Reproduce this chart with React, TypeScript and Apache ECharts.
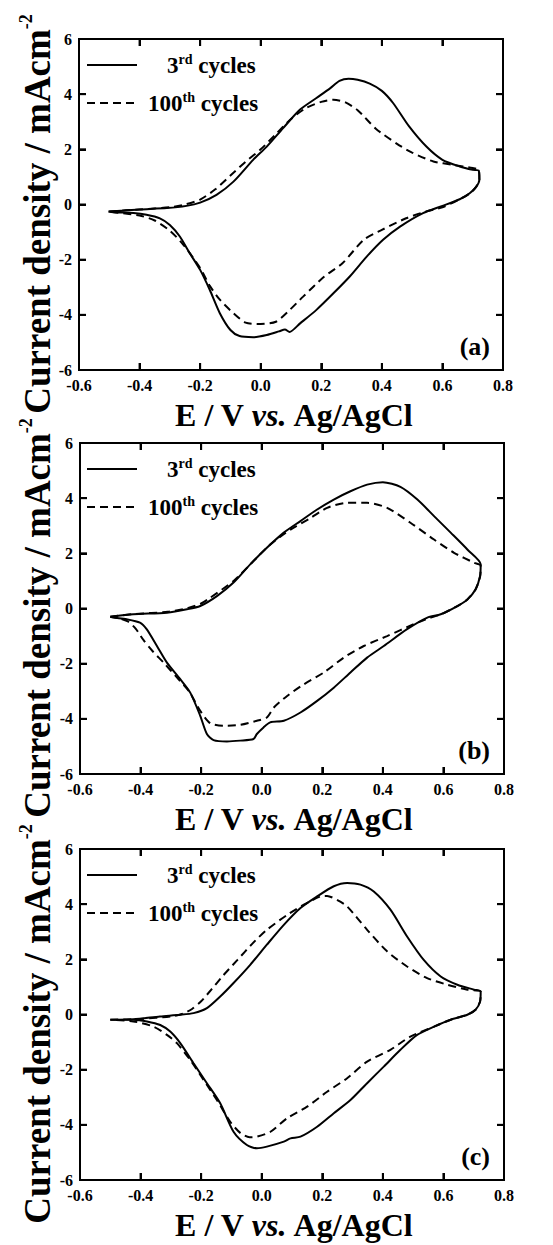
import React, { useEffect, useRef } from "react";
import * as echarts from "echarts";

// ---- data: [E (V vs Ag/AgCl), current density (mA cm^-2)] ----
const a3rd: number[][] = [
  [-0.503, -0.25], [-0.45, -0.22], [-0.40, -0.18], [-0.31, -0.13], [-0.245, -0.05], [-0.20, 0.07],
  [-0.146, 0.35], [-0.09, 0.83], [-0.025, 1.62], [0.02, 2.10], [0.074, 2.77], [0.13, 3.44],
  [0.184, 3.86], [0.23, 4.22], [0.26, 4.48], [0.29, 4.56], [0.32, 4.52], [0.36, 4.38],
  [0.40, 4.12], [0.437, 3.68], [0.49, 2.83], [0.547, 2.10], [0.60, 1.62], [0.657, 1.38],
  [0.70, 1.26], [0.72, 1.23], [0.722, 0.9], [0.712, 0.65], [0.69, 0.41], [0.657, 0.19],
  [0.60, -0.05], [0.536, -0.31], [0.46, -0.80], [0.404, -1.28], [0.35, -1.89], [0.294, -2.61],
  [0.24, -3.22], [0.184, -3.82], [0.13, -4.31], [0.095, -4.62], [0.08, -4.53], [0.06, -4.60],
  [0.02, -4.73], [-0.025, -4.81], [-0.07, -4.77], [-0.10, -4.55], [-0.135, -3.94], [-0.168, -3.10],
  [-0.20, -2.37], [-0.234, -1.77], [-0.267, -1.16], [-0.30, -0.74], [-0.333, -0.50], [-0.377, -0.37],
  [-0.42, -0.31], [-0.487, -0.28], [-0.503, -0.25],
];
const a100th: number[][] = [
  [-0.50, -0.25], [-0.40, -0.18], [-0.30, -0.10], [-0.25, 0.0], [-0.20, 0.18], [-0.15, 0.55],
  [-0.10, 1.05], [-0.05, 1.55], [0.0, 2.0], [0.05, 2.55], [0.10, 3.1], [0.15, 3.5],
  [0.20, 3.72], [0.24, 3.80], [0.28, 3.70], [0.32, 3.42], [0.38, 2.75], [0.45, 2.2],
  [0.50, 1.88], [0.57, 1.56], [0.635, 1.44], [0.70, 1.32], [0.72, 1.25], [0.722, 0.9],
  [0.71, 0.62], [0.69, 0.40], [0.655, 0.18], [0.60, -0.10], [0.547, -0.25], [0.48, -0.50],
  [0.40, -0.92], [0.34, -1.28], [0.27, -2.13], [0.21, -2.61], [0.14, -3.34], [0.096, -3.82],
  [0.05, -4.25], [0.0, -4.33], [-0.05, -4.28], [-0.09, -3.94], [-0.135, -3.45], [-0.168, -2.95],
  [-0.20, -2.30], [-0.256, -1.45], [-0.30, -0.95], [-0.35, -0.58], [-0.40, -0.40], [-0.47, -0.30],
  [-0.50, -0.25],
];
const b3rd: number[][] = [
  [-0.50, -0.30], [-0.424, -0.21], [-0.313, -0.15], [-0.247, -0.03], [-0.203, 0.09], [-0.148, 0.45],
  [-0.093, 0.94], [-0.038, 1.60], [0.017, 2.20], [0.073, 2.75], [0.128, 3.17], [0.183, 3.59],
  [0.238, 3.95], [0.293, 4.25], [0.348, 4.49], [0.40, 4.58], [0.458, 4.41], [0.514, 3.95],
  [0.569, 3.35], [0.624, 2.75], [0.679, 2.14], [0.723, 1.60], [0.721, 1.18], [0.706, 0.69],
  [0.679, 0.33], [0.646, 0.09], [0.591, -0.21], [0.547, -0.33], [0.48, -0.75], [0.403, -1.36],
  [0.348, -1.78], [0.293, -2.32], [0.238, -2.87], [0.183, -3.35], [0.128, -3.77], [0.073, -4.07],
  [0.028, -4.13], [0.006, -4.31], [-0.016, -4.55], [-0.027, -4.73], [-0.071, -4.79], [-0.115, -4.82],
  [-0.159, -4.77], [-0.181, -4.55], [-0.203, -3.89], [-0.236, -3.05], [-0.269, -2.56], [-0.313, -1.96],
  [-0.346, -1.36], [-0.38, -0.75], [-0.402, -0.51], [-0.446, -0.39], [-0.49, -0.33], [-0.50, -0.30],
];
const b100th: number[][] = [
  [-0.50, -0.30], [-0.42, -0.20], [-0.31, -0.12], [-0.25, 0.0], [-0.20, 0.18], [-0.17, 0.39],
  [-0.093, 1.0], [-0.027, 1.72], [0.028, 2.32], [0.095, 2.86], [0.161, 3.28], [0.216, 3.65],
  [0.282, 3.83], [0.348, 3.83], [0.414, 3.65], [0.491, 3.11], [0.569, 2.50], [0.635, 2.02],
  [0.701, 1.66], [0.723, 1.55], [0.721, 1.15], [0.706, 0.69], [0.679, 0.33], [0.646, 0.09],
  [0.59, -0.22], [0.55, -0.36], [0.502, -0.57], [0.414, -1.00], [0.337, -1.36], [0.271, -1.78],
  [0.205, -2.32], [0.139, -2.75], [0.084, -3.17], [0.040, -3.59], [0.017, -3.95], [-0.016, -4.07],
  [-0.071, -4.22], [-0.126, -4.25], [-0.170, -4.16], [-0.203, -3.71], [-0.24, -3.0], [-0.28, -2.5],
  [-0.324, -1.96], [-0.36, -1.55], [-0.39, -1.15], [-0.415, -0.75], [-0.44, -0.48], [-0.47, -0.36],
  [-0.50, -0.30],
];
const c3rd: number[][] = [
  [-0.50, -0.19], [-0.424, -0.17], [-0.336, -0.07], [-0.269, -0.01], [-0.225, 0.05], [-0.181, 0.23],
  [-0.137, 0.65], [-0.093, 1.14], [-0.038, 1.80], [0.017, 2.53], [0.073, 3.25], [0.128, 3.86],
  [0.183, 4.28], [0.238, 4.65], [0.282, 4.77], [0.326, 4.71], [0.370, 4.46], [0.425, 3.80],
  [0.480, 2.83], [0.535, 1.98], [0.591, 1.38], [0.646, 1.08], [0.701, 0.90], [0.723, 0.83],
  [0.721, 0.47], [0.706, 0.17], [0.679, -0.01], [0.624, -0.19], [0.569, -0.44], [0.513, -0.74],
  [0.458, -1.28], [0.403, -1.89], [0.348, -2.49], [0.293, -3.10], [0.238, -3.58], [0.183, -4.07],
  [0.128, -4.43], [0.095, -4.49], [0.073, -4.61], [0.017, -4.79], [-0.016, -4.85], [-0.049, -4.73],
  [-0.093, -4.25], [-0.137, -3.22], [-0.181, -2.49], [-0.225, -1.77], [-0.269, -1.04], [-0.302, -0.62],
  [-0.335, -0.38], [-0.379, -0.25], [-0.424, -0.19], [-0.50, -0.19],
];
const c100th: number[][] = [
  [-0.50, -0.19], [-0.40, -0.16], [-0.30, -0.07], [-0.26, 0.03], [-0.23, 0.20], [-0.20, 0.48],
  [-0.165, 0.92], [-0.13, 1.38], [-0.08, 1.98], [-0.03, 2.58], [0.017, 3.07], [0.084, 3.61],
  [0.139, 3.98], [0.194, 4.28], [0.216, 4.30], [0.25, 4.15], [0.282, 3.92], [0.348, 3.07],
  [0.414, 2.29], [0.480, 1.74], [0.546, 1.32], [0.613, 1.08], [0.679, 0.90], [0.723, 0.83],
  [0.721, 0.47], [0.706, 0.17], [0.679, -0.01], [0.624, -0.19], [0.569, -0.44], [0.491, -0.80],
  [0.425, -1.28], [0.348, -1.71], [0.282, -2.31], [0.216, -2.80], [0.150, -3.34], [0.084, -3.76],
  [0.029, -4.25], [-0.016, -4.43], [-0.04, -4.45], [-0.07, -4.3], [-0.104, -3.89], [-0.148, -3.10],
  [-0.192, -2.37], [-0.236, -1.65], [-0.280, -1.04], [-0.313, -0.74], [-0.357, -0.44], [-0.424, -0.25],
  [-0.50, -0.19],
];

const panelLabels = ["(a)", "(b)", "(c)"];
const legendNames = ["3rd cycles", "100th cycles"];
const xRange = [-0.6, 0.8];
const yRange = [-6, 6];
const xTickValues = [-0.6, -0.4, -0.2, 0, 0.2, 0.4, 0.6, 0.8];
const yTickValues = [-6, -4, -2, 0, 2, 4, 6];

const SERIF = "Liberation Serif";

export default function App() {
  const ref = useRef<HTMLDivElement>(null);
  useEffect(() => {
    if (!ref.current) return;
    const chart = echarts.init(ref.current, undefined, { renderer: "svg" });
    const panels = [
      { top: 39, left: 79, solid: a3rd, dashed: a100th },
      { top: 443, left: 80, solid: b3rd, dashed: b100th },
      { top: 849, left: 80, solid: c3rd, dashed: c100th },
    ];
    const H = 331;
    const W = 424;
    const TICK = 7;
    const grids: any[] = [];
    const xAxes: any[] = [];
    const yAxes: any[] = [];
    const series: any[] = [];
    const graphics: any[] = [];
    const labelStyle = { color: "#000", fontFamily: SERIF, fontWeight: "bold", fontSize: 16 };
    panels.forEach((p, i) => {
      grids.push({ left: p.left, top: p.top, width: W, height: H });
      const mk = () => ({
        gridIndex: i, type: "value", z: 10, splitLine: { show: false },
        axisLine: { show: true, onZero: false, lineStyle: { color: "#000", width: 2 } },
        axisTick: { show: true, inside: true, length: TICK, lineStyle: { color: "#000", width: 2 } },
      });
      xAxes.push({
        ...mk(), position: "bottom", min: xRange[0], max: xRange[1], interval: 0.2,
        axisLabel: { ...labelStyle, margin: 7, formatter: (v: number) => v.toFixed(1) },
      });
      xAxes.push({
        ...mk(), position: "top", min: xRange[0], max: xRange[1], interval: 0.2,
        axisLabel: { show: false },
      });
      yAxes.push({
        ...mk(), position: "left", min: yRange[0], max: yRange[1], interval: 2,
        axisLabel: { ...labelStyle, margin: 7 },
      });
      yAxes.push({
        ...mk(), position: "right", min: yRange[0], max: yRange[1], interval: 2,
        axisLabel: { show: false },
      });
      series.push({
        type: "line", name: legendNames[0], xAxisIndex: 2 * i, yAxisIndex: 2 * i,
        data: p.solid, showSymbol: false, symbol: "none", smooth: 0.25,
        lineStyle: { color: "#000", width: 2 },
      });
      series.push({
        type: "line", name: legendNames[1], xAxisIndex: 2 * i, yAxisIndex: 2 * i,
        data: p.dashed, showSymbol: false, symbol: "none", smooth: 0.25,
        lineStyle: { color: "#000", width: 2, type: [8, 5] },
      });
      const T = p.top;
      // legend
      graphics.push({ type: "line", shape: { x1: 87, y1: T + 26, x2: 137, y2: T + 26 }, style: { stroke: "#000", lineWidth: 2 } });
      graphics.push({ type: "line", shape: { x1: 87, y1: T + 64, x2: 137, y2: T + 64 }, style: { stroke: "#000", lineWidth: 2, lineDash: [8, 5] } });
      const legRich = {
        n: { fontFamily: SERIF, fontWeight: "bold", fontSize: 23, lineHeight: 26, fill: "#000" },
        s: { fontFamily: SERIF, fontWeight: "bold", fontSize: 14, lineHeight: 14, verticalAlign: "top", fill: "#000" },
      };
      graphics.push({ type: "text", x: 167, y: T + 26, style: { text: "{n|3}{s|rd}{n| cycles}", rich: legRich, align: "left", verticalAlign: "middle" } });
      graphics.push({ type: "text", x: 148, y: T + 64, style: { text: "{n|100}{s|th}{n| cycles}", rich: legRich, align: "left", verticalAlign: "middle" } });
      // panel label
      graphics.push({ type: "text", x: 490, y: T + 307, style: { text: panelLabels[i], fontFamily: SERIF, fontWeight: "bold", fontSize: 26, fill: "#000", align: "right", verticalAlign: "middle" } });
      // x title
      graphics.push({
        type: "text", x: 294, y: T + H + 45,
        style: {
          text: "{n|E / V }{i|vs.}{n| Ag/AgCl}", align: "center", verticalAlign: "middle",
          rich: {
            n: { fontFamily: SERIF, fontWeight: "bold", fontSize: 32, fill: "#000" },
            i: { fontFamily: SERIF, fontWeight: "bold", fontStyle: "italic", fontSize: 32, fill: "#000" },
          },
        },
      });
      // y title
      graphics.push({
        type: "text", x: 37, y: T + 175, rotation: Math.PI / 2,
        style: {
          text: "{n|Current density / mAcm}{s|-2}", align: "center", verticalAlign: "middle",
          rich: {
            n: { fontFamily: SERIF, fontWeight: "bold", fontSize: 37, lineHeight: 40, fill: "#000" },
            s: { fontFamily: SERIF, fontWeight: "bold", fontSize: 18, lineHeight: 18, verticalAlign: "top", fill: "#000" },
          },
        },
      });
    });
    chart.setOption({
      animation: false,
      grid: grids,
      xAxis: xAxes,
      yAxis: yAxes,
      series,
    });
    // frame and inward ticks, positioned through the axes' own scales
    const extra: any[] = [];
    try {
      panels.forEach((_p, i) => {
        const xl = chart.convertToPixel({ xAxisIndex: 2 * i }, xRange[0]) as number;
        const xr = chart.convertToPixel({ xAxisIndex: 2 * i }, xRange[1]) as number;
        const yt = chart.convertToPixel({ yAxisIndex: 2 * i }, yRange[1]) as number;
        const yb = chart.convertToPixel({ yAxisIndex: 2 * i }, yRange[0]) as number;
        if (![xl, xr, yt, yb].every((v) => typeof v === "number" && isFinite(v))) return;
        extra.push({ type: "rect", z: 100, shape: { x: xl, y: yt, width: xr - xl, height: yb - yt }, style: { fill: "none", stroke: "#000", lineWidth: 2 } });
        xTickValues.slice(1, -1).forEach((v) => {
          const px = chart.convertToPixel({ xAxisIndex: 2 * i }, v) as number;
          extra.push({ type: "line", z: 100, shape: { x1: px, y1: yb, x2: px, y2: yb - TICK }, style: { stroke: "#000", lineWidth: 2 } });
          extra.push({ type: "line", z: 100, shape: { x1: px, y1: yt, x2: px, y2: yt + TICK }, style: { stroke: "#000", lineWidth: 2 } });
        });
        yTickValues.slice(1, -1).forEach((v) => {
          const py = chart.convertToPixel({ yAxisIndex: 2 * i }, v) as number;
          extra.push({ type: "line", z: 100, shape: { x1: xl, y1: py, x2: xl + TICK, y2: py }, style: { stroke: "#000", lineWidth: 2 } });
          extra.push({ type: "line", z: 100, shape: { x1: xr, y1: py, x2: xr - TICK, y2: py }, style: { stroke: "#000", lineWidth: 2 } });
        });
      });
    } catch (e) {
      extra.length = 0;
    }
    chart.setOption({ graphic: [...graphics, ...extra] });
    return () => chart.dispose();
  }, []);
  return <div ref={ref} style={{ position: "absolute", left: 0, top: 0, width: 553, height: 1245, background: "#fff" }} />;
}
